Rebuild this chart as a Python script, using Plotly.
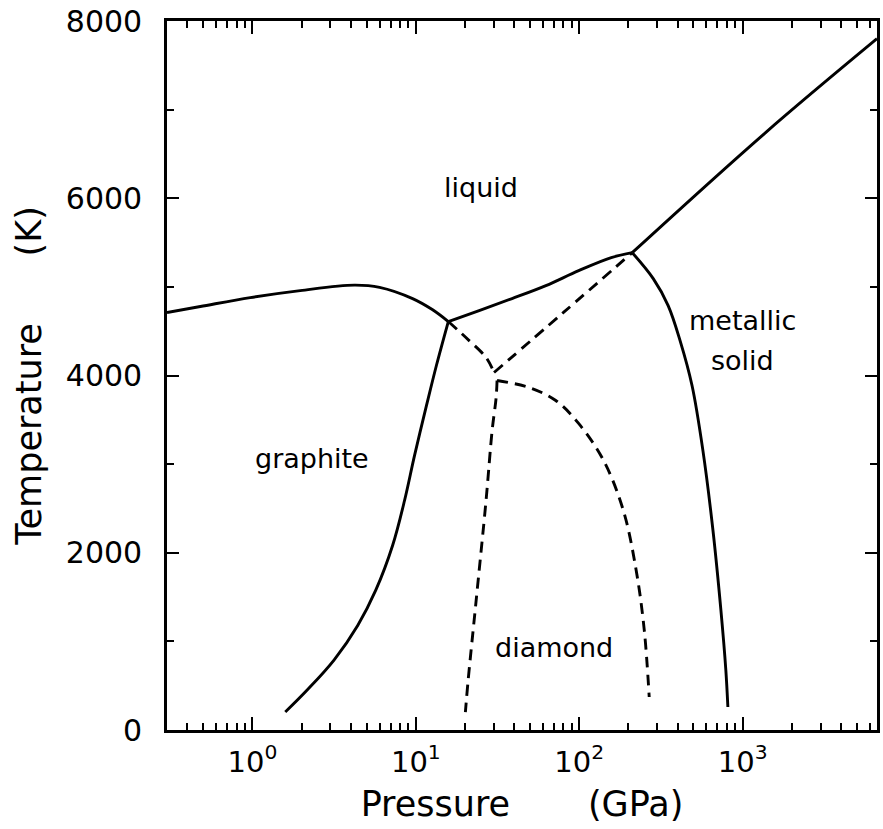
import numpy as np
import plotly.graph_objects as go

# ---- data (Pressure in GPa, Temperature in K) ----
graphite_liquid_P = [0.3, 0.48, 0.97, 1.96, 4.2, 6.0, 9.55, 12.6, 15.8]
graphite_liquid_T = [4710, 4778, 4879, 4958, 5020, 4995, 4868, 4744, 4609]

diamond_liquid_P = [15.8, 24.4, 38.8, 62.5, 99.2, 157, 211]
diamond_liquid_T = [4609, 4733, 4868, 5014, 5183, 5330, 5386]

metal_liquid_P = [211, 1360, 6640]
metal_liquid_T = [5386, 6730, 7800]

graphite_diamond_P = [15.8, 13.36, 11.62, 9.82, 8.535, 7.215, 5.685, 4.418, 3.156, 2.162, 1.588]
graphite_diamond_T = [4609, 4113, 3662, 3099, 2592, 2085, 1578, 1183, 789, 451, 203]

diamond_metal_P = [211, 283.7, 350, 414, 490, 571, 658, 736, 789, 812]
diamond_metal_T = [5386, 5093, 4789, 4394, 3887, 3155, 2254, 1352, 676, 259]

# metastable (dashed) boundaries
ext_graphite_liquid_P = [15.8, 21.2, 26.9, 30.1]
ext_graphite_liquid_T = [4609, 4394, 4203, 4034]

ext_diamond_liquid_P = [30.1, 80.4, 211]
ext_diamond_liquid_T = [4034, 4714, 5386]

ext_graphite_diamond_P = [31.4, 31.0, 29.3, 26.9, 23.4, 20.9, 20.1]
ext_graphite_diamond_T = [3944, 3752, 3380, 2592, 1465, 563, 203]

ext_diamond_metal_P = [31.4, 49.2, 71.8, 99.1, 140.8, 186, 223, 250, 268]
ext_diamond_metal_T = [3944, 3865, 3718, 3459, 3042, 2479, 1803, 1127, 372]

region_labels = ["liquid", "graphite", "diamond", "metallic", "solid"]
region_P = [25.1, 2.32, 69.8, 1000, 1000]
region_T = [6118, 3065, 935, 4620, 4169]

x_tickvals = [1, 10, 100, 1000]
x_ticktext = ["10<sup>0</sup>", "10<sup>1</sup>", "10<sup>2</sup>", "10<sup>3</sup>"]
x_minor = [0.3, 0.4, 0.5, 0.6, 0.7, 0.8, 0.9] + \
          [m * d for d in (1, 10, 100) for m in range(2, 10)] + \
          [2000, 3000, 4000, 5000, 6000]
y_tickvals = [0, 2000, 4000, 6000, 8000]

FONT = "DejaVu Sans"
fig = go.Figure()

solid = [
    (graphite_liquid_P, graphite_liquid_T),
    (diamond_liquid_P, diamond_liquid_T),
    (metal_liquid_P, metal_liquid_T),
    (graphite_diamond_P, graphite_diamond_T),
    (diamond_metal_P, diamond_metal_T),
]
dashed = [
    (ext_graphite_liquid_P, ext_graphite_liquid_T),
    (ext_diamond_liquid_P, ext_diamond_liquid_T),
    (ext_graphite_diamond_P, ext_graphite_diamond_T),
    (ext_diamond_metal_P, ext_diamond_metal_T),
]
for P, T in solid:
    fig.add_trace(go.Scatter(x=P, y=T, mode="lines", line_shape="spline",
                             line=dict(color="black", width=2.9), showlegend=False))
for P, T in dashed:
    fig.add_trace(go.Scatter(x=P, y=T, mode="lines", line_shape="spline",
                             line=dict(color="black", width=2.9, dash="11px,7px"),
                             showlegend=False))

for lab, P, T in zip(region_labels, region_P, region_T):
    fig.add_annotation(x=np.log10(P), y=T, text=lab, showarrow=False,
                       font=dict(family=FONT, size=27, color="black"))

fig.update_layout(
    width=883, height=829,
    margin=dict(l=167, r=3, t=20, b=99),
    paper_bgcolor="white", plot_bgcolor="white",
    font=dict(family=FONT, color="black"),
    showlegend=False,
)
fig.update_xaxes(
    type="log", range=[np.log10(0.3), np.log10(6640)],
    tickmode="array", tickvals=x_tickvals, ticktext=x_ticktext,
    ticks="inside", ticklen=13, tickwidth=2, tickcolor="black",
    minor=dict(tickmode="array", tickvals=x_minor, ticks="inside", ticklen=7,
               tickwidth=2, tickcolor="black", showgrid=False),
    showline=True, linewidth=2.6, linecolor="black", mirror="allticks",
    showgrid=False, zeroline=False,
    tickfont=dict(family=FONT, size=29, color="black"),
    ticklabelstandoff=4,
    title=dict(text="Pressure" + "\u00a0" * 7 + "(GPa)",
               font=dict(family=FONT, size=35, color="black"), standoff=14),
)
fig.update_yaxes(
    range=[0, 8000], tickmode="array", tickvals=y_tickvals,
    ticks="inside", ticklen=12, tickwidth=2, tickcolor="black",
    minor=dict(dtick=1000, ticks="inside", ticklen=7, tickwidth=2,
               tickcolor="black", showgrid=False),
    showline=True, linewidth=2.6, linecolor="black", mirror="allticks",
    showgrid=False, zeroline=False,
    tickfont=dict(family=FONT, size=30, color="black"),
    ticklabelstandoff=16,
    title=dict(text="Temperature" + "\u00a0" * 6 + "(K)",
               font=dict(family=FONT, size=35, color="black"), standoff=14),
)

fig.write_html("out.html")
